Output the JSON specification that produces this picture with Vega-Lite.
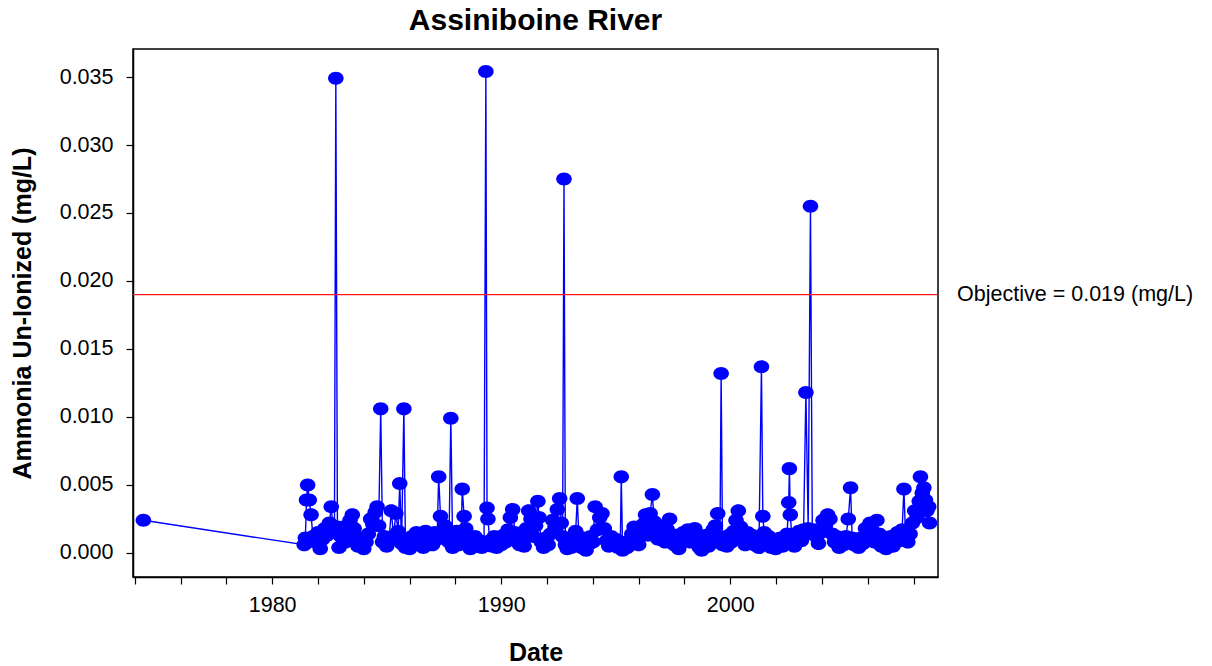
{
  "$schema": "https://vega.github.io/schema/vega-lite/v6.json",
  "autosize": {"type": "none"},
  "padding": {"left": 133, "top": 49, "right": 274, "bottom": 89},
  "width": 805,
  "height": 528,
  "background": "white",
  "title": {"text": "Assiniboine River", "font": "Liberation Sans", "fontSize": 30, "fontWeight": "bold", "color": "black", "anchor": "middle", "offset": 13},
  "config": {
    "view": {"stroke": "black", "strokeWidth": 1.5},
    "font": "Liberation Sans",
    "axis": {"grid": false, "domainColor": "black", "tickColor": "black", "labelColor": "black", "titleColor": "black", "labelFont": "Liberation Sans", "titleFont": "Liberation Sans", "labelFontSize": 21.5, "titleFontSize": 25, "titleFontWeight": "bold", "tickSize": 7, "domainWidth": 1.5, "tickWidth": 1.2}
  },
  "data": {"values": [
    {"year": 1974.38, "v": 0.0024},
    {"year": 1981.40, "v": 0.0006}, {"year": 1981.45, "v": 0.0011}, {"year": 1981.50, "v": 0.0039}, {"year": 1981.55, "v": 0.0050}, {"year": 1981.62, "v": 0.0039}, {"year": 1981.70, "v": 0.0028}, {"year": 1981.78, "v": 0.0012}, {"year": 1981.88, "v": 0.0008},
    {"year": 1982.00, "v": 0.0015}, {"year": 1982.10, "v": 0.0003}, {"year": 1982.20, "v": 0.0010}, {"year": 1982.30, "v": 0.0018}, {"year": 1982.40, "v": 0.0013}, {"year": 1982.50, "v": 0.0022}, {"year": 1982.58, "v": 0.0034}, {"year": 1982.65, "v": 0.0020}, {"year": 1982.72, "v": 0.0016}, {"year": 1982.78, "v": 0.0349}, {"year": 1982.85, "v": 0.0019}, {"year": 1982.92, "v": 0.0004},
    {"year": 1983.00, "v": 0.0012}, {"year": 1983.10, "v": 0.0019}, {"year": 1983.20, "v": 0.0008}, {"year": 1983.30, "v": 0.0015}, {"year": 1983.40, "v": 0.0024}, {"year": 1983.50, "v": 0.0028}, {"year": 1983.58, "v": 0.0018}, {"year": 1983.65, "v": 0.0009}, {"year": 1983.75, "v": 0.0005}, {"year": 1983.85, "v": 0.0011},
    {"year": 1984.00, "v": 0.0003}, {"year": 1984.10, "v": 0.0008}, {"year": 1984.20, "v": 0.0014}, {"year": 1984.30, "v": 0.0025}, {"year": 1984.40, "v": 0.0021}, {"year": 1984.50, "v": 0.0030}, {"year": 1984.58, "v": 0.0034}, {"year": 1984.65, "v": 0.0020}, {"year": 1984.74, "v": 0.0106}, {"year": 1984.82, "v": 0.0008}, {"year": 1984.90, "v": 0.0012},
    {"year": 1985.00, "v": 0.0005}, {"year": 1985.10, "v": 0.0009}, {"year": 1985.20, "v": 0.0031}, {"year": 1985.30, "v": 0.0012}, {"year": 1985.40, "v": 0.0029}, {"year": 1985.50, "v": 0.0016}, {"year": 1985.57, "v": 0.0051}, {"year": 1985.65, "v": 0.0007}, {"year": 1985.75, "v": 0.0106}, {"year": 1985.82, "v": 0.0004}, {"year": 1985.90, "v": 0.0010},
    {"year": 1986.00, "v": 0.0003}, {"year": 1986.10, "v": 0.0012}, {"year": 1986.20, "v": 0.0006}, {"year": 1986.30, "v": 0.0015}, {"year": 1986.40, "v": 0.0008}, {"year": 1986.50, "v": 0.0014}, {"year": 1986.60, "v": 0.0004}, {"year": 1986.70, "v": 0.0016}, {"year": 1986.80, "v": 0.0009}, {"year": 1986.90, "v": 0.0013},
    {"year": 1987.00, "v": 0.0006}, {"year": 1987.10, "v": 0.0015}, {"year": 1987.20, "v": 0.0010}, {"year": 1987.27, "v": 0.0056}, {"year": 1987.35, "v": 0.0027}, {"year": 1987.45, "v": 0.0012}, {"year": 1987.55, "v": 0.0020}, {"year": 1987.65, "v": 0.0014}, {"year": 1987.72, "v": 0.0008}, {"year": 1987.80, "v": 0.0099}, {"year": 1987.88, "v": 0.0004}, {"year": 1987.95, "v": 0.0010},
    {"year": 1988.05, "v": 0.0016}, {"year": 1988.15, "v": 0.0006}, {"year": 1988.25, "v": 0.0012}, {"year": 1988.30, "v": 0.0047}, {"year": 1988.38, "v": 0.0027}, {"year": 1988.45, "v": 0.0018}, {"year": 1988.55, "v": 0.0009}, {"year": 1988.65, "v": 0.0003}, {"year": 1988.75, "v": 0.0007}, {"year": 1988.85, "v": 0.0012}, {"year": 1988.95, "v": 0.0005},
    {"year": 1989.05, "v": 0.0009}, {"year": 1989.15, "v": 0.0004}, {"year": 1989.25, "v": 0.0006}, {"year": 1989.33, "v": 0.0354}, {"year": 1989.38, "v": 0.0033}, {"year": 1989.42, "v": 0.0025}, {"year": 1989.50, "v": 0.0009}, {"year": 1989.60, "v": 0.0005}, {"year": 1989.70, "v": 0.0012}, {"year": 1989.80, "v": 0.0004}, {"year": 1989.90, "v": 0.0008},
    {"year": 1990.00, "v": 0.0006}, {"year": 1990.10, "v": 0.0013}, {"year": 1990.20, "v": 0.0008}, {"year": 1990.30, "v": 0.0017}, {"year": 1990.40, "v": 0.0026}, {"year": 1990.50, "v": 0.0032}, {"year": 1990.60, "v": 0.0015}, {"year": 1990.70, "v": 0.0010}, {"year": 1990.80, "v": 0.0006}, {"year": 1990.90, "v": 0.0012},
    {"year": 1991.00, "v": 0.0005}, {"year": 1991.10, "v": 0.0018}, {"year": 1991.20, "v": 0.0031}, {"year": 1991.30, "v": 0.0025}, {"year": 1991.40, "v": 0.0012}, {"year": 1991.50, "v": 0.0020}, {"year": 1991.60, "v": 0.0038}, {"year": 1991.65, "v": 0.0026}, {"year": 1991.75, "v": 0.0008}, {"year": 1991.85, "v": 0.0004}, {"year": 1991.95, "v": 0.0011},
    {"year": 1992.05, "v": 0.0006}, {"year": 1992.15, "v": 0.0014}, {"year": 1992.25, "v": 0.0024}, {"year": 1992.35, "v": 0.0019}, {"year": 1992.45, "v": 0.0032}, {"year": 1992.55, "v": 0.0040}, {"year": 1992.62, "v": 0.0022}, {"year": 1992.68, "v": 0.0012}, {"year": 1992.74, "v": 0.0275}, {"year": 1992.80, "v": 0.0006}, {"year": 1992.88, "v": 0.0003}, {"year": 1992.95, "v": 0.0010},
    {"year": 1993.05, "v": 0.0004}, {"year": 1993.15, "v": 0.0008}, {"year": 1993.25, "v": 0.0016}, {"year": 1993.32, "v": 0.0040}, {"year": 1993.40, "v": 0.0007}, {"year": 1993.50, "v": 0.0004}, {"year": 1993.60, "v": 0.0011}, {"year": 1993.70, "v": 0.0002}, {"year": 1993.80, "v": 0.0006}, {"year": 1993.90, "v": 0.0012},
    {"year": 1994.00, "v": 0.0008}, {"year": 1994.10, "v": 0.0034}, {"year": 1994.20, "v": 0.0017}, {"year": 1994.30, "v": 0.0026}, {"year": 1994.40, "v": 0.0029}, {"year": 1994.50, "v": 0.0018}, {"year": 1994.60, "v": 0.0009}, {"year": 1994.70, "v": 0.0005}, {"year": 1994.80, "v": 0.0012}, {"year": 1994.90, "v": 0.0006},
    {"year": 1995.00, "v": 0.0010}, {"year": 1995.10, "v": 0.0004}, {"year": 1995.20, "v": 0.0008}, {"year": 1995.24, "v": 0.0056}, {"year": 1995.30, "v": 0.0002}, {"year": 1995.40, "v": 0.0007}, {"year": 1995.50, "v": 0.0004}, {"year": 1995.60, "v": 0.0009}, {"year": 1995.70, "v": 0.0014}, {"year": 1995.80, "v": 0.0019}, {"year": 1995.90, "v": 0.0011},
    {"year": 1996.00, "v": 0.0006}, {"year": 1996.10, "v": 0.0015}, {"year": 1996.20, "v": 0.0021}, {"year": 1996.30, "v": 0.0028}, {"year": 1996.40, "v": 0.0013}, {"year": 1996.50, "v": 0.0029}, {"year": 1996.60, "v": 0.0043}, {"year": 1996.68, "v": 0.0023}, {"year": 1996.75, "v": 0.0016}, {"year": 1996.85, "v": 0.0010}, {"year": 1996.95, "v": 0.0020},
    {"year": 1997.05, "v": 0.0014}, {"year": 1997.15, "v": 0.0008}, {"year": 1997.25, "v": 0.0017}, {"year": 1997.35, "v": 0.0025}, {"year": 1997.45, "v": 0.0011}, {"year": 1997.55, "v": 0.0006}, {"year": 1997.65, "v": 0.0013}, {"year": 1997.75, "v": 0.0003}, {"year": 1997.85, "v": 0.0009}, {"year": 1997.95, "v": 0.0015},
    {"year": 1998.05, "v": 0.0012}, {"year": 1998.15, "v": 0.0017}, {"year": 1998.25, "v": 0.0008}, {"year": 1998.35, "v": 0.0014}, {"year": 1998.45, "v": 0.0018}, {"year": 1998.55, "v": 0.0011}, {"year": 1998.65, "v": 0.0004}, {"year": 1998.75, "v": 0.0002}, {"year": 1998.85, "v": 0.0008}, {"year": 1998.95, "v": 0.0013},
    {"year": 1999.05, "v": 0.0005}, {"year": 1999.15, "v": 0.0011}, {"year": 1999.25, "v": 0.0017}, {"year": 1999.35, "v": 0.0020}, {"year": 1999.45, "v": 0.0029}, {"year": 1999.55, "v": 0.0012}, {"year": 1999.60, "v": 0.0132}, {"year": 1999.66, "v": 0.0006}, {"year": 1999.75, "v": 0.0010}, {"year": 1999.85, "v": 0.0005}, {"year": 1999.95, "v": 0.0013},
    {"year": 2000.05, "v": 0.0008}, {"year": 2000.15, "v": 0.0016}, {"year": 2000.25, "v": 0.0024}, {"year": 2000.35, "v": 0.0031}, {"year": 2000.45, "v": 0.0019}, {"year": 2000.55, "v": 0.0011}, {"year": 2000.65, "v": 0.0006}, {"year": 2000.75, "v": 0.0015}, {"year": 2000.85, "v": 0.0009}, {"year": 2000.95, "v": 0.0013},
    {"year": 2001.05, "v": 0.0006}, {"year": 2001.15, "v": 0.0012}, {"year": 2001.25, "v": 0.0004}, {"year": 2001.36, "v": 0.0137}, {"year": 2001.42, "v": 0.0027}, {"year": 2001.48, "v": 0.0015}, {"year": 2001.58, "v": 0.0008}, {"year": 2001.68, "v": 0.0012}, {"year": 2001.78, "v": 0.0004}, {"year": 2001.88, "v": 0.0009}, {"year": 2001.98, "v": 0.0003},
    {"year": 2002.08, "v": 0.0007}, {"year": 2002.18, "v": 0.0011}, {"year": 2002.28, "v": 0.0005}, {"year": 2002.38, "v": 0.0009}, {"year": 2002.48, "v": 0.0014}, {"year": 2002.55, "v": 0.0037}, {"year": 2002.58, "v": 0.0062}, {"year": 2002.62, "v": 0.0028}, {"year": 2002.70, "v": 0.0009}, {"year": 2002.80, "v": 0.0005}, {"year": 2002.90, "v": 0.0012},
    {"year": 2003.00, "v": 0.0016}, {"year": 2003.10, "v": 0.0009}, {"year": 2003.20, "v": 0.0017}, {"year": 2003.30, "v": 0.0118}, {"year": 2003.40, "v": 0.0018}, {"year": 2003.50, "v": 0.0255}, {"year": 2003.58, "v": 0.0014}, {"year": 2003.66, "v": 0.0017}, {"year": 2003.75, "v": 0.0012}, {"year": 2003.85, "v": 0.0007}, {"year": 2003.95, "v": 0.0015},
    {"year": 2004.05, "v": 0.0024}, {"year": 2004.15, "v": 0.0020}, {"year": 2004.25, "v": 0.0028}, {"year": 2004.35, "v": 0.0025}, {"year": 2004.45, "v": 0.0014}, {"year": 2004.55, "v": 0.0008}, {"year": 2004.65, "v": 0.0012}, {"year": 2004.75, "v": 0.0004}, {"year": 2004.85, "v": 0.0010}, {"year": 2004.95, "v": 0.0006},
    {"year": 2005.05, "v": 0.0012}, {"year": 2005.15, "v": 0.0025}, {"year": 2005.25, "v": 0.0048}, {"year": 2005.32, "v": 0.0011}, {"year": 2005.40, "v": 0.0006}, {"year": 2005.50, "v": 0.0009}, {"year": 2005.60, "v": 0.0004}, {"year": 2005.70, "v": 0.0011}, {"year": 2005.80, "v": 0.0007}, {"year": 2005.90, "v": 0.0018},
    {"year": 2006.00, "v": 0.0012}, {"year": 2006.10, "v": 0.0022}, {"year": 2006.20, "v": 0.0016}, {"year": 2006.30, "v": 0.0008}, {"year": 2006.40, "v": 0.0024}, {"year": 2006.50, "v": 0.0014}, {"year": 2006.60, "v": 0.0005}, {"year": 2006.70, "v": 0.0010}, {"year": 2006.80, "v": 0.0003}, {"year": 2006.90, "v": 0.0008},
    {"year": 2007.00, "v": 0.0012}, {"year": 2007.10, "v": 0.0005}, {"year": 2007.20, "v": 0.0010}, {"year": 2007.30, "v": 0.0015}, {"year": 2007.40, "v": 0.0009}, {"year": 2007.50, "v": 0.0017}, {"year": 2007.58, "v": 0.0047}, {"year": 2007.65, "v": 0.0012}, {"year": 2007.75, "v": 0.0008}, {"year": 2007.85, "v": 0.0014}, {"year": 2007.95, "v": 0.0022},
    {"year": 2008.05, "v": 0.0031}, {"year": 2008.15, "v": 0.0026}, {"year": 2008.25, "v": 0.0038}, {"year": 2008.30, "v": 0.0056}, {"year": 2008.38, "v": 0.0044}, {"year": 2008.45, "v": 0.0048}, {"year": 2008.52, "v": 0.0039}, {"year": 2008.58, "v": 0.0031}, {"year": 2008.66, "v": 0.0034}, {"year": 2008.70, "v": 0.0022}
  ]},
  "encoding": {
    "x": {"field": "year", "type": "quantitative", "title": "Date",
      "scale": {"domain": [1973.926, 2009.067], "nice": false, "zero": false},
      "axis": {"values": [1974,1976,1978,1980,1982,1984,1986,1988,1990,1992,1994,1996,1998,2000,2002,2004,2006,2008], "labelExpr": "datum.value % 10 == 0 ? datum.value : ''", "labelDx": -5, "labelPadding": 10, "titlePadding": 25, "labelFlush": false, "labelOverlap": false}},
    "y": {"field": "v", "type": "quantitative", "title": "Ammonia Un-Ionized (mg/L)",
      "scale": {"domain": [-0.00177, 0.03706], "nice": false, "zero": false},
      "axis": {"values": [0, 0.005, 0.01, 0.015, 0.02, 0.025, 0.03, 0.035], "format": ".3f", "labelPadding": 13, "titlePadding": 24, "labelFlush": false}}
  },
  "layer": [
    {"mark": {"type": "line", "color": "#0000ff", "strokeWidth": 1.4}, "encoding": {"order": {"field": "year"}}},
    {"mark": {"type": "point", "shape": "M-1.1,0A1.1,0.92,0,1,1,1.1,0A1.1,0.92,0,1,1,-1.1,0Z", "filled": true, "color": "#0000ff", "opacity": 1, "size": 200}},
    {"data": {"values": [{"obj": 0.019}]}, "mark": {"type": "rule", "color": "#ff1a1a", "strokeWidth": 1.2}, "encoding": {"x": null, "y": {"field": "obj", "type": "quantitative"}}},
    {"data": {"values": [{"obj": 0.019, "pos": 2009.9, "label": "Objective = 0.019 (mg/L)"}]}, "mark": {"type": "text", "align": "left", "baseline": "middle", "font": "Liberation Sans", "fontSize": 21.5, "color": "black"}, "encoding": {"x": {"field": "pos", "type": "quantitative"}, "y": {"field": "obj", "type": "quantitative"}, "text": {"field": "label"}}}
  ]
}
